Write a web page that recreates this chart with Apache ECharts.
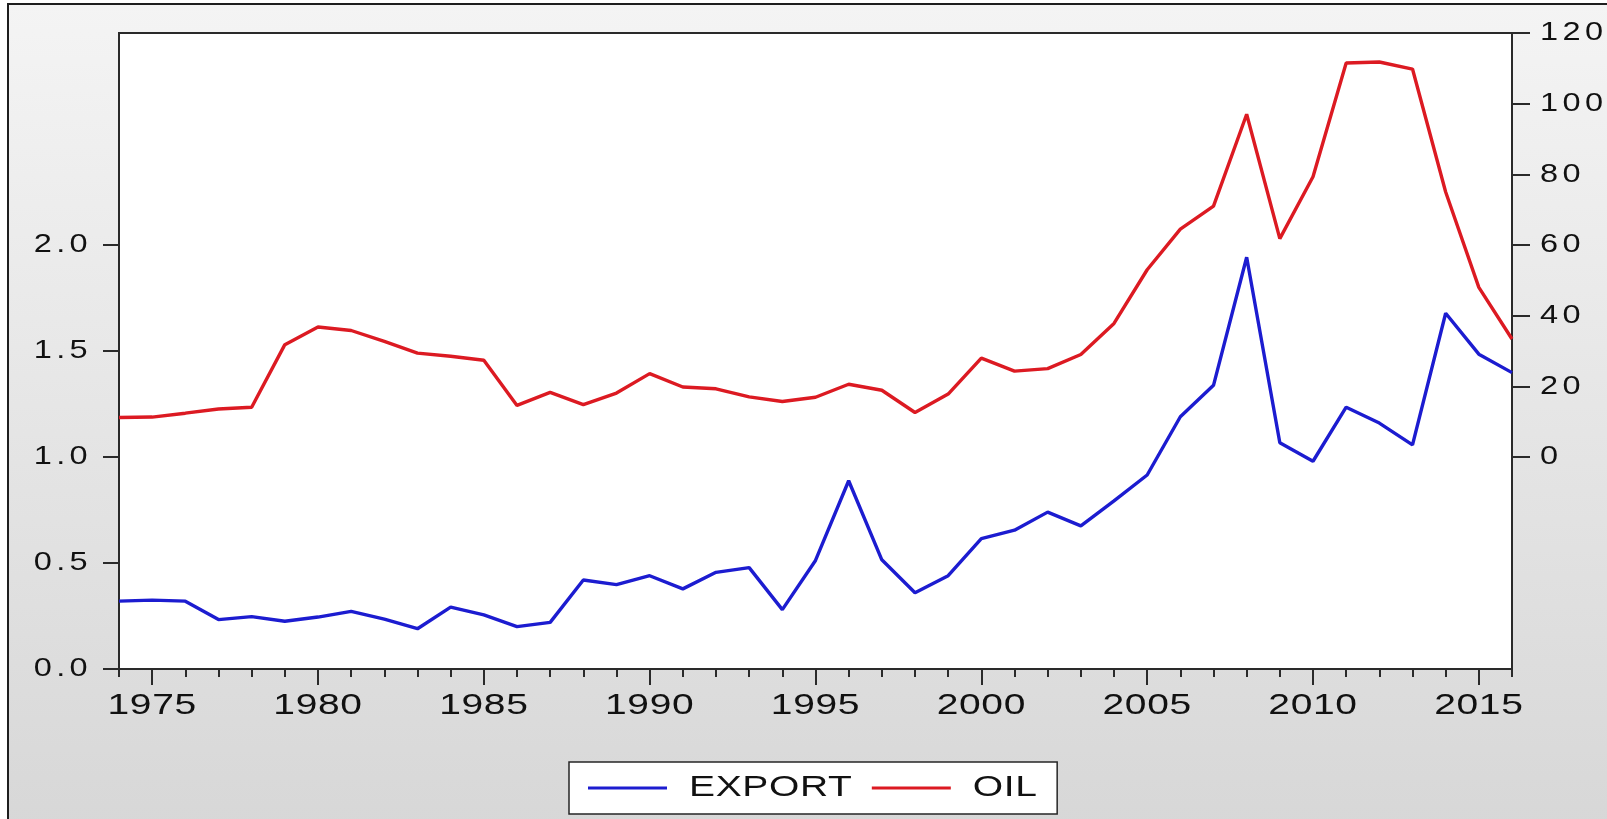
<!DOCTYPE html>
<html>
<head>
<meta charset="utf-8">
<title>EXPORT and OIL, 1974-2016</title>
<script src="https://cdn.jsdelivr.net/npm/echarts@6/dist/echarts.min.js"></script>
<style>
  html, body { margin: 0; padding: 0; background: #ffffff; }
  #chart { width: 1607px; height: 819px; }
</style>
</head>
<body>
<div id="chart"></div>
<script>
// Annual observations, 1974-2016
const years = [1974,1975,1976,1977,1978,1979,1980,1981,1982,1983,1984,1985,1986,1987,1988,1989,
  1990,1991,1992,1993,1994,1995,1996,1997,1998,1999,2000,2001,2002,2003,2004,2005,2006,2007,
  2008,2009,2010,2011,2012,2013,2014,2015,2016];

// EXPORT (left axis)
const exportValues = [0.32,0.325,0.32,0.233,0.247,0.225,0.245,0.272,0.235,0.19,0.292,0.255,0.2,0.22,
  0.42,0.398,0.44,0.378,0.456,0.478,0.28,0.512,0.888,0.515,0.36,0.44,0.615,0.655,0.74,0.675,
  0.793,0.915,1.19,1.338,1.942,1.067,0.98,1.235,1.16,1.057,1.678,1.485,1.398];

// OIL (right axis)
const oilValues = [11.2,11.3,12.4,13.6,14.1,31.8,36.8,35.8,32.7,29.4,28.5,27.4,14.6,18.3,14.8,18.1,
  23.6,19.8,19.3,17.0,15.7,16.9,20.6,18.9,12.6,17.8,28.0,24.3,25.0,29.0,37.8,53.0,64.5,71.0,
  97.0,61.8,79.3,111.5,111.8,109.8,75.0,48.0,33.4];

// Tick labels
const xLabelYears = [1975,1980,1985,1990,1995,2000,2005,2010,2015];
const leftTicks = [0,0.5,1,1.5,2];
const rightTicks = [0,20,40,60,80,100,120];

// Wide, slightly stretched lettering, keyed by font size:
// [horizontal stretch, letter spacing in px]
const LETTERING = { 26: [1.25, 3.5], 30: [1.3, 0.5] };
(function () {
  const proto = CanvasRenderingContext2D.prototype;
  const fill = proto.fillText;
  proto.fillText = function (text, x, y, maxWidth) {
    const m = /(\d+(?:\.\d+)?)px/.exec(this.font);
    const cfg = m ? LETTERING[Math.round(parseFloat(m[1]))] : null;
    if (!cfg) {
      return maxWidth === undefined ? fill.call(this, text, x, y) : fill.call(this, text, x, y, maxWidth);
    }
    this.save();
    if ('letterSpacing' in this) this.letterSpacing = cfg[1] + 'px';
    this.translate(x, y);
    this.scale(cfg[0], 1);
    fill.call(this, text, 0, 0);
    this.restore();
  };
})();

const FONT = 'Liberation Sans';
const INK = '#111111';
const FRAME = '#2a2a2a';
const BLUE = '#1c1cd0';
const RED = '#dc1a22';

const chart = echarts.init(document.getElementById('chart'), null, { renderer: 'canvas' });

chart.setOption({
  animation: false,
  backgroundColor: '#ffffff',
  graphic: [{
    type: 'rect',
    z: -10,
    silent: true,
    shape: { x: 8, y: 4, width: 1620, height: 830 },
    style: {
      fill: new echarts.graphic.LinearGradient(0, 0, 0, 1, [
        { offset: 0, color: '#f4f4f4' },
        { offset: 1, color: '#d7d7d7' }
      ]),
      stroke: '#1e1e1e',
      lineWidth: 2
    }
  }],
  grid: {
    left: 119, right: 95, top: 33, bottom: 150,
    show: true,
    backgroundColor: '#ffffff',
    borderColor: FRAME,
    borderWidth: 2
  },
  legend: {
    data: ['EXPORT', 'OIL'],
    left: 569,
    top: 762,
    orient: 'horizontal',
    icon: 'rect',
    itemWidth: 79,
    itemHeight: 3,
    itemGap: 60,
    padding: [11, 36, 11, 19],
    backgroundColor: '#ffffff',
    borderColor: '#262626',
    borderWidth: 1.5,
    borderRadius: 0,
    textStyle: { fontFamily: FONT, fontSize: 30, color: INK, padding: [0, 0, 0, 17] }
  },
  xAxis: [{
    type: 'value',
    min: 1974,
    max: 2016,
    axisLine: { show: true, onZero: false, lineStyle: { color: FRAME, width: 2 } },
    axisTick: { show: true, customValues: xLabelYears, length: 16, lineStyle: { color: FRAME, width: 2 } },
    axisLabel: {
      customValues: xLabelYears,
      margin: 22,
      fontFamily: FONT, fontSize: 30, color: INK,
      formatter: v => String(v)
    },
    splitLine: { show: false }
  }, {
    type: 'value',
    min: 1974,
    max: 2016,
    position: 'bottom',
    axisLine: { show: false, onZero: false },
    axisTick: { show: true, customValues: years, length: 8, lineStyle: { color: FRAME, width: 2 } },
    axisLabel: { show: false },
    splitLine: { show: false }
  }],
  yAxis: [{
    type: 'value',
    position: 'left',
    min: 0,
    max: 3,
    axisLine: { show: true, onZero: false, lineStyle: { color: FRAME, width: 2 } },
    axisTick: { show: true, customValues: leftTicks, length: 16, lineStyle: { color: FRAME, width: 2 } },
    axisLabel: {
      customValues: leftTicks,
      margin: 27,
      fontFamily: FONT, fontSize: 26, color: INK,
      formatter: v => v.toFixed(1)
    },
    splitLine: { show: false }
  }, {
    type: 'value',
    position: 'right',
    min: -60,
    max: 120,
    axisLine: { show: true, onZero: false, lineStyle: { color: FRAME, width: 2 } },
    axisTick: { show: true, customValues: rightTicks, length: 18, lineStyle: { color: FRAME, width: 2 } },
    axisLabel: {
      customValues: rightTicks,
      margin: 28,
      fontFamily: FONT, fontSize: 26, color: INK,
      formatter: v => String(v)
    },
    splitLine: { show: false }
  }],
  series: [{
    name: 'EXPORT',
    type: 'line',
    xAxisIndex: 0,
    yAxisIndex: 0,
    symbol: 'none',
    lineStyle: { color: BLUE, width: 3.4 },
    itemStyle: { color: BLUE },
    data: years.map((y, i) => [y, exportValues[i]])
  }, {
    name: 'OIL',
    type: 'line',
    xAxisIndex: 0,
    yAxisIndex: 1,
    symbol: 'none',
    lineStyle: { color: RED, width: 3.4 },
    itemStyle: { color: RED },
    data: years.map((y, i) => [y, oilValues[i]])
  }]
});
</script>
</body>
</html>
